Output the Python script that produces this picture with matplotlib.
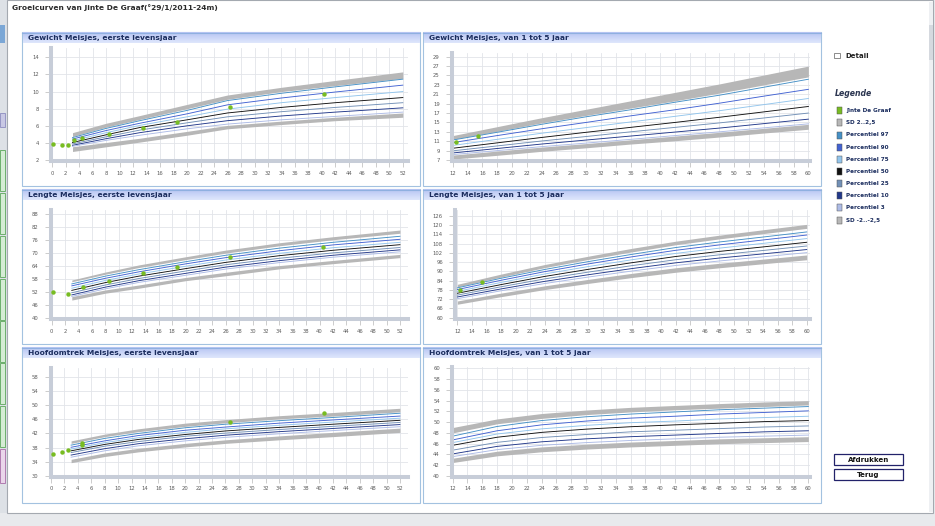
import numpy as np
import matplotlib.pyplot as plt
from matplotlib.patches import Rectangle
from matplotlib.colors import LinearSegmentedColormap

W, H = 935, 526

# ---------------- data ----------------
# curve rows: SD+2.5, SD+2, P97, P90, P75, P50, P25, P10, P3, SD-2, SD-2.5

# Gewicht, eerste levensjaar (weken)
w0_age = [3, 8, 13, 20, 26, 34, 42, 52]
w0_curves = [
    [5.2, 6.3, 7.2, 8.5, 9.6, 10.5, 11.3, 12.3],
    [4.75, 5.85, 6.75, 8.0, 9.1, 10.0, 10.7, 11.55],
    [4.62, 5.7, 6.6, 7.8, 8.95, 9.8, 10.55, 11.45],
    [4.45, 5.45, 6.3, 7.4, 8.45, 9.25, 9.95, 10.75],
    [4.25, 5.2, 6.05, 7.05, 7.95, 8.7, 9.3, 10.0],
    [4.05, 4.95, 5.8, 6.7, 7.5, 8.15, 8.7, 9.3],
    [3.88, 4.72, 5.5, 6.35, 7.05, 7.65, 8.15, 8.7],
    [3.72, 4.5, 5.2, 6.0, 6.6, 7.15, 7.6, 8.1],
    [3.6, 4.3, 4.9, 5.65, 6.2, 6.7, 7.1, 7.6],
    [3.55, 4.05, 4.55, 5.35, 6.05, 6.55, 7.0, 7.5],
    [3.0, 3.55, 4.1, 4.9, 5.65, 6.15, 6.6, 7.0],
]
w0_pt_x = [0.15, 1.5, 2.3, 3.2, 4.4, 8.4, 13.4, 18.5, 26.4, 40.3]
w0_pt_y = [3.85, 3.75, 3.8, 4.35, 4.6, 5.1, 5.8, 6.5, 8.2, 9.7]

# Gewicht, van 1 tot 5 jaar (maanden)
w1_age = [12, 18, 24, 30, 36, 42, 48, 54, 60]
w1_curves = [
    [12.2, 14.1, 16.0, 17.8, 19.6, 21.4, 23.2, 25.1, 27.0],
    [11.4, 13.1, 14.9, 16.5, 18.05, 19.6, 21.25, 23.0, 24.7],
    [11.25, 12.9, 14.6, 16.2, 17.7, 19.3, 20.8, 22.5, 24.2],
    [10.7, 12.2, 13.65, 15.0, 16.4, 17.7, 19.1, 20.6, 22.05],
    [10.1, 11.4, 12.7, 13.9, 15.1, 16.3, 17.5, 18.8, 20.1],
    [9.5, 10.65, 11.8, 12.9, 13.95, 15.0, 16.1, 17.25, 18.4],
    [8.95, 10.0, 11.05, 12.0, 13.0, 13.95, 14.9, 15.95, 17.0],
    [8.5, 9.45, 10.4, 11.25, 12.1, 12.95, 13.8, 14.75, 15.7],
    [8.15, 9.0, 9.85, 10.6, 11.4, 12.2, 13.0, 13.85, 14.7],
    [8.05, 8.9, 9.75, 10.5, 11.3, 12.1, 12.9, 13.75, 14.6],
    [7.2, 8.0, 8.85, 9.6, 10.4, 11.1, 11.9, 12.75, 13.55],
]
w1_pt_x = [12.4, 15.4]
w1_pt_y = [10.9, 12.1]

# Lengte, eerste levensjaar
l0_age = [3, 8, 13, 20, 26, 34, 42, 52]
l0_curves = [
    [57.5, 61.2, 64.5, 68.3, 71.4, 74.8, 77.6, 80.7],
    [56.7, 60.2, 63.3, 67.0, 70.0, 73.4, 76.2, 79.2],
    [55.7, 59.3, 62.3, 66.0, 69.0, 72.3, 75.0, 77.8],
    [54.8, 58.3, 61.3, 65.0, 67.9, 71.1, 73.8, 76.4],
    [53.7, 57.3, 60.3, 63.9, 66.8, 69.9, 72.5, 75.0],
    [52.7, 56.3, 59.3, 62.8, 65.7, 68.8, 71.3, 73.9],
    [51.6, 55.2, 58.2, 61.7, 64.6, 67.6, 70.1, 72.6],
    [50.6, 54.2, 57.2, 60.6, 63.5, 66.5, 69.0, 71.5],
    [49.9, 53.4, 56.4, 59.7, 62.6, 65.6, 68.1, 70.6],
    [49.8, 52.9, 55.2, 58.7, 61.1, 64.2, 66.6, 69.4],
    [48.2, 51.4, 53.7, 57.2, 59.5, 62.7, 65.1, 67.9],
]
l0_pt_x = [0.25, 2.4, 4.6, 8.55, 13.6, 18.65, 26.6, 40.5]
l0_pt_y = [51.8, 51.2, 54.1, 57.2, 60.6, 63.4, 68.3, 73.0]

# Lengte, van 1 tot 5 jaar
l1_age = [12, 18, 24, 30, 36, 42, 48, 54, 60]
l1_curves = [
    [81.6, 88.2, 94.4, 99.8, 104.9, 109.5, 113.4, 116.9, 120.4],
    [79.9, 86.3, 92.4, 97.7, 102.6, 107.2, 111.0, 114.4, 117.8],
    [79.3, 85.5, 91.2, 96.3, 101.0, 105.4, 109.0, 112.2, 115.5],
    [78.2, 84.2, 89.8, 94.8, 99.4, 103.6, 107.1, 110.3, 113.5],
    [77.0, 82.8, 88.3, 93.1, 97.5, 101.6, 105.0, 108.1, 111.2],
    [75.8, 81.4, 86.7, 91.3, 95.6, 99.6, 102.9, 105.8, 108.8],
    [74.6, 80.0, 85.1, 89.5, 93.7, 97.5, 100.7, 103.5, 106.4],
    [73.4, 78.6, 83.5, 87.8, 91.8, 95.5, 98.6, 101.3, 104.1],
    [72.3, 77.4, 82.1, 86.3, 90.2, 93.8, 96.7, 99.4, 102.1],
    [70.8, 75.9, 80.6, 84.8, 88.7, 92.3, 95.2, 97.9, 100.6],
    [68.7, 73.6, 78.2, 82.2, 86.0, 89.4, 92.3, 94.9, 97.5],
]
l1_pt_x = [12.3, 15.35]
l1_pt_y = [78.1, 82.9]

# Hoofdomtrek, eerste levensjaar
h0_age = [3, 8, 13, 20, 26, 34, 42, 52]
h0_curves = [
    [39.9, 41.8, 43.3, 44.9, 45.9, 47.0, 47.9, 49.1],
    [39.2, 41.1, 42.5, 44.0, 45.0, 46.1, 46.9, 48.1],
    [38.7, 40.6, 42.0, 43.6, 44.6, 45.6, 46.5, 47.7],
    [38.1, 39.9, 41.4, 42.9, 43.8, 44.9, 45.8, 46.9],
    [37.6, 39.4, 40.8, 42.3, 43.3, 44.3, 45.2, 46.3],
    [37.1, 38.9, 40.3, 41.7, 42.7, 43.7, 44.6, 45.7],
    [36.6, 38.4, 39.7, 41.2, 42.1, 43.1, 44.0, 45.1],
    [35.9, 37.7, 39.1, 40.5, 41.5, 42.5, 43.4, 44.5],
    [35.3, 37.1, 38.5, 39.9, 40.9, 41.9, 42.8, 43.9],
    [34.7, 36.5, 37.8, 39.2, 40.2, 41.3, 42.3, 43.5],
    [33.75, 35.5, 36.8, 38.2, 39.2, 40.2, 41.1, 42.3],
]
h0_pt_x = [0.35, 1.6, 2.5, 4.55, 4.6, 26.7, 40.7]
h0_pt_y = [36.2, 36.8, 37.3, 38.6, 39.2, 45.3, 47.9]

# Hoofdomtrek, van 1 tot 5 jaar
h1_age = [12, 18, 24, 30, 36, 42, 48, 54, 60]
h1_curves = [
    [49.0, 50.6, 51.6, 52.25, 52.75, 53.1, 53.45, 53.75, 54.0],
    [48.0, 49.7, 50.7, 51.4, 51.9, 52.3, 52.6, 52.9, 53.2],
    [47.4, 49.2, 50.3, 51.0, 51.5, 51.9, 52.3, 52.6, 52.9],
    [46.7, 48.4, 49.5, 50.2, 50.75, 51.1, 51.5, 51.8, 52.1],
    [46.2, 47.8, 48.75, 49.4, 49.9, 50.2, 50.6, 50.85, 51.1],
    [45.7, 47.2, 48.1, 48.7, 49.15, 49.5, 49.8, 50.1, 50.3],
    [44.8, 46.25, 47.15, 47.7, 48.2, 48.5, 48.8, 49.1, 49.3],
    [44.1, 45.5, 46.35, 46.9, 47.3, 47.6, 47.9, 48.2, 48.4],
    [43.6, 44.9, 45.7, 46.2, 46.6, 46.9, 47.2, 47.4, 47.6],
    [43.3, 44.6, 45.4, 45.9, 46.3, 46.6, 46.9, 47.1, 47.3],
    [42.5, 43.75, 44.5, 45.0, 45.4, 45.7, 46.0, 46.2, 46.4],
]
h1_pt_x = []
h1_pt_y = []

legend_names = ['Jinte De Graaf', 'SD 2..2,5', 'Percentiel 97', 'Percentiel 90',
                'Percentiel 75', 'Percentiel 50', 'Percentiel 25', 'Percentiel 10',
                'Percentiel 3', 'SD -2..-2,5']

# ---------------- styling ----------------
point_color = '#78bc22'
band_color = '#b7b7b7'
pct_colors = ['#4590c6', '#4262d2', '#92c5ec', '#111111', '#7290b6', '#22388a', '#adbbe6']
legend_colors = [point_color, band_color] + pct_colors + [band_color]
title_color = '#1b2d5e'

fig = plt.figure(figsize=(W / 100, H / 100), dpi=100)
fig.patch.set_facecolor('#e8eaed')

# background layer in pixel coordinates
bg = fig.add_axes([0, 0, 1, 1], zorder=0)
bg.axis('off')

# application behind the dialog (left strip)
bg.add_patch(Rectangle((0, 0), 7, 513, fc='#dde1e6', lw=0))
bg.add_patch(Rectangle((0, 25), 5, 18, fc='#7ba7d6', lw=0))
bg.add_patch(Rectangle((0, 113), 5, 14, fc='#c8c8e4', ec='#8c8cc0', lw=0.6))
for y0 in [150, 193, 236, 279, 321, 363, 406]:
    bg.add_patch(Rectangle((0, y0), 5, 41, fc='#d5ecd5', ec='#6cb06c', lw=0.7))
bg.add_patch(Rectangle((0, 449), 5, 34, fc='#ead6ea', ec='#b07cb0', lw=0.7))

# dialog window
bg.add_patch(Rectangle((7, 0), 926, 513, fc='white', ec='#a4a9b0', lw=0.8))
bg.add_patch(Rectangle((929, 2), 3.5, 510, fc='#eef0f3', lw=0))
bg.add_patch(Rectangle((929, 25), 3.5, 35, fc='#d5d9df', lw=0))
bg.text(12, 7.5, 'Groeicurven van Jinte De Graaf(\u00b029/1/2011-24m)', fontsize=5.4,
        fontweight='bold', color='#2b2b2b', va='center', ha='left')

# panels
grad = np.linspace(0, 1, 30).reshape(-1, 1)
bar_cmap = LinearSegmentedColormap.from_list('bar', ['#b6c4f3', '#dfe7fc'])
cols = [(22, 420), (423, 821)]
rows = [(32, 186), (189, 344), (347, 503)]
titles = [['Gewicht Meisjes, eerste levensjaar', 'Gewicht Meisjes, van 1 tot 5 jaar'],
          ['Lengte Meisjes, eerste levensjaar', 'Lengte Meisjes, van 1 tot 5 jaar'],
          ['Hoofdomtrek Meisjes, eerste levensjaar', 'Hoofdomtrek Meisjes, van 1 tot 5 jaar']]
for r, (y0, y1) in enumerate(rows):
    for c, (x0, x1) in enumerate(cols):
        bg.add_patch(Rectangle((x0, y0), x1 - x0, y1 - y0, fc='white', ec='#a3c2e0', lw=0.8))
        bg.imshow(grad, extent=(x0 + 0.5, x1 - 0.5, y0 + 11.5, y0 + 0.5), aspect='auto',
                  cmap=bar_cmap, zorder=2)
        bg.plot([x0, x1], [y0 + 0.5, y0 + 0.5], color='#8fb0e0', lw=0.8, zorder=3)
        bg.text(x0 + 6, y0 + 6.3, titles[r][c], fontsize=5.4, fontweight='bold',
                color=title_color, va='center', ha='left', zorder=4)

# sidebar
bg.add_patch(Rectangle((834, 52.5), 5.5, 5.5, fc='white', ec='#7a7a7a', lw=0.6))
bg.text(845, 55.5, 'Detail', fontsize=5, fontweight='bold', color='#222222', va='center')
bg.text(835, 93, 'Legende', fontsize=5.6, fontweight='bold', fontstyle='italic',
        color='#2b3550', va='center')
for i, (name, col) in enumerate(zip(legend_names, legend_colors)):
    yc = 110.7 + i * 12.15
    bg.add_patch(Rectangle((836.5, yc - 3.5), 5, 7, fc=col, ec='#555555', lw=0.35))
    bg.text(846.5, yc, name, fontsize=4.1, fontweight='bold', color=title_color, va='center')
for yb, label in [(453.5, 'Afdrukken'), (468.5, 'Terug')]:
    bg.add_patch(Rectangle((834, yb), 69, 11.5, fc='white', ec='#22226a', lw=0.9))
    bg.text(868.5, yb + 6, label, fontsize=5, fontweight='bold', color='#111111',
            ha='center', va='center')

bg.set_xlim(0, W)
bg.set_ylim(H, 0)


def chart(px_rect, age, curves, pt_x, pt_y, xticks, yticks, xlim, ylim):
    left, right, top, bottom = px_rect
    ax = fig.add_axes([left / W, 1 - bottom / H, (right - left) / W, (bottom - top) / H], zorder=2)
    ax.patch.set_alpha(0)
    ax.set_xticks(xticks)
    ax.set_yticks(yticks)
    ax.grid(color='#e2e4e9', lw=0.6)
    ax.set_axisbelow(True)

    ax.fill_between(age, curves[0], curves[1], color=band_color, lw=0)
    ax.fill_between(age, curves[9], curves[10], color=band_color, lw=0)
    for row, col in zip(curves[2:9], pct_colors):
        ax.plot(age, row, color=col, lw=0.65)
    if pt_x:
        ax.plot(pt_x, pt_y, 'o', color=point_color, ms=3.2, mec='none', zorder=5)

    ax.set_xlim(*xlim)
    ax.set_ylim(*ylim)
    for s in ['top', 'right']:
        ax.spines[s].set_visible(False)
    for s in ['left', 'bottom']:
        ax.spines[s].set_color('#c7cdd8')
        ax.spines[s].set_linewidth(2.9)
    ax.tick_params(axis='both', labelsize=3.8, labelcolor='#5c5c5c', color='#b8b8b8',
                   length=4, width=0.5)
    ax.tick_params(axis='x', pad=3)
    ax.tick_params(axis='y', pad=4.5)
    return ax


weeks = list(range(0, 53, 2))
months = list(range(12, 61, 2))

chart((51, 408, 48, 161.5), w0_age, w0_curves, w0_pt_x, w0_pt_y,
      weeks, list(range(2, 15, 2)), (-0.19, 52.77), (1.83, 15.09))
chart((451.7, 810, 52.7, 161), w1_age, w1_curves, w1_pt_x, w1_pt_y,
      months, list(range(7, 30, 2)), (11.87, 60.22), (6.79, 29.85))
chart((50.5, 408, 210, 319), l0_age, l0_curves, l0_pt_x, l0_pt_y,
      weeks, list(range(40, 89, 6)), (-0.18, 53.2), (39.42, 90.0))
chart((454.7, 810, 210, 319), l1_age, l1_curves, l1_pt_x, l1_pt_y,
      months, list(range(60, 127, 6)), (11.64, 60.45), (59.14, 129.7))
chart((50.5, 408, 368.3, 476.7), h0_age, h0_curves, h0_pt_x, h0_pt_y,
      weeks, list(range(30, 59, 4)), (-0.07, 53.2), (29.8, 60.37))
chart((451.7, 810, 366.7, 476.7), h1_age, h1_curves, h1_pt_x, h1_pt_y,
      months, list(range(40, 61, 2)), (11.87, 60.22), (39.87, 60.3))

fig.savefig('out.png', dpi=100, facecolor=fig.get_facecolor())
